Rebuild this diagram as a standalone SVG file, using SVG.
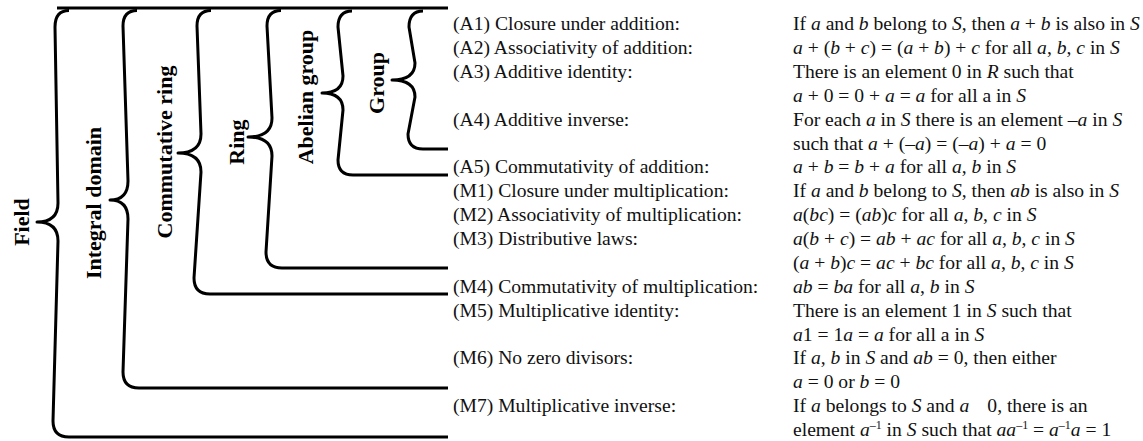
<svg xmlns="http://www.w3.org/2000/svg" width="1143" height="441" viewBox="0 0 1143 441">
<style>
.br{fill:none;stroke:#000;stroke-width:3;stroke-linecap:butt;stroke-linejoin:round}
.lab{font-family:"Liberation Serif","Times New Roman",serif;font-weight:bold;font-size:22px;fill:#000;text-anchor:middle}
.t{font-family:"Liberation Serif","Times New Roman",serif;font-size:19.6px;fill:#111}
.i{font-style:italic}
.sup{font-size:12px}
</style>
<rect width="1143" height="441" fill="#fff"/>
<g id="connectors">
<path class="br" d="M57,8 L448,8"/>
<path id="br-field" class="br" d="M69,10.5 Q55,10.5 55,27 L58,203 Q58,222 37,222 Q58,222 58,241 L53,421 Q53,437 69,437 L448,437"/>
<path id="br-integral" class="br" d="M137,10.5 Q123,10.5 123,26 L128,181 Q128,200 110,200 Q128,200 128,219 L123,372 Q123,388 139,388 L448,388"/>
<path id="br-commring" class="br" d="M211,10.5 Q197,10.5 197,26 L201,134 Q201,153 178,153 Q201,153 201,172 L194,278 Q194,294 210,294 L448,294"/>
<path id="br-ring" class="br" d="M281,10.5 Q267,10.5 267,26 L272,118 Q272,137 248,137 Q272,137 272,156 L266,252 Q266,268 282,268 L448,268"/>
<path id="br-abelian" class="br" d="M352,11 Q338,11 338,27 L343,76 Q343,93 322,93 Q343,93 343,110 L338,160 Q338,175 353,175 L448,175"/>
<path id="br-group" class="br" d="M423,11 Q409,11 409,27 L415,63 Q415,80 392,80 Q415,80 415,97 L408,134 Q408,149 423,149 L448,149"/>
</g>
<g id="field"><text class="lab" transform="translate(29,222) rotate(-90)">Field</text></g>
<g id="integral-domain"><text class="lab" transform="translate(101,203) rotate(-90)">Integral domain</text></g>
<g id="commutative-ring"><text class="lab" transform="translate(172,152) rotate(-90)">Commutative ring</text></g>
<g id="ring"><text class="lab" transform="translate(244,142) rotate(-90)">Ring</text></g>
<g id="abelian-group"><text class="lab" transform="translate(313,97) rotate(-90)">Abelian group</text></g>
<g id="group"><text class="lab" transform="translate(384,83) rotate(-90)">Group</text></g>
<g id="axioms">
<text class="t" x="453" y="30">(A1) Closure under addition:</text>
<text class="t" x="453" y="53.9">(A2) Associativity of addition:</text>
<text class="t" x="453" y="77.8">(A3) Additive identity:</text>
<text class="t" x="453" y="125.6">(A4) Additive inverse:</text>
<text class="t" x="453" y="173.3">(A5) Commutativity of addition:</text>
<text class="t" x="453" y="197.2">(M1) Closure under multiplication:</text>
<text class="t" x="453" y="221.1">(M2) Associativity of multiplication:</text>
<text class="t" x="453" y="245">(M3) Distributive laws:</text>
<text class="t" x="453" y="292.8">(M4) Commutativity of multiplication:</text>
<text class="t" x="453" y="316.7">(M5) Multiplicative identity:</text>
<text class="t" x="453" y="364.4">(M6) No zero divisors:</text>
<text class="t" x="453" y="412.2">(M7) Multiplicative inverse:</text>
</g>
<g id="definitions">
<text class="t" x="793" y="30">If <tspan class="i">a</tspan> and <tspan class="i">b</tspan> belong to <tspan class="i">S</tspan>, then <tspan class="i">a</tspan> + <tspan class="i">b</tspan> is also in <tspan class="i">S</tspan></text>
<text class="t" x="793" y="53.9"><tspan class="i">a</tspan> + (<tspan class="i">b</tspan> + <tspan class="i">c</tspan>) = (<tspan class="i">a</tspan> + <tspan class="i">b</tspan>) + <tspan class="i">c</tspan> for all <tspan class="i">a</tspan>, <tspan class="i">b</tspan>, <tspan class="i">c</tspan> in <tspan class="i">S</tspan></text>
<text class="t" x="793" y="77.8">There is an element 0 in <tspan class="i">R</tspan> such that</text>
<text class="t" x="793" y="101.7"><tspan class="i">a</tspan> + 0 = 0 + <tspan class="i">a</tspan> = <tspan class="i">a</tspan> for all a in <tspan class="i">S</tspan></text>
<text class="t" x="793" y="125.6">For each <tspan class="i">a</tspan> in <tspan class="i">S</tspan> there is an element –<tspan class="i">a</tspan> in <tspan class="i">S</tspan></text>
<text class="t" x="793" y="149.5">such that <tspan class="i">a</tspan> + (–<tspan class="i">a</tspan>) = (–<tspan class="i">a</tspan>) + <tspan class="i">a</tspan> = 0</text>
<text class="t" x="793" y="173.3"><tspan class="i">a</tspan> + <tspan class="i">b</tspan> = <tspan class="i">b</tspan> + <tspan class="i">a</tspan> for all <tspan class="i">a</tspan>, <tspan class="i">b</tspan> in <tspan class="i">S</tspan></text>
<text class="t" x="793" y="197.2">If <tspan class="i">a</tspan> and <tspan class="i">b</tspan> belong to <tspan class="i">S</tspan>, then <tspan class="i">ab</tspan> is also in <tspan class="i">S</tspan></text>
<text class="t" x="793" y="221.1"><tspan class="i">a</tspan>(<tspan class="i">bc</tspan>) = (<tspan class="i">ab</tspan>)<tspan class="i">c</tspan> for all <tspan class="i">a</tspan>, <tspan class="i">b</tspan>, <tspan class="i">c</tspan> in <tspan class="i">S</tspan></text>
<text class="t" x="793" y="245"><tspan class="i">a</tspan>(<tspan class="i">b</tspan> + <tspan class="i">c</tspan>) = <tspan class="i">ab</tspan> + <tspan class="i">ac</tspan> for all <tspan class="i">a</tspan>, <tspan class="i">b</tspan>, <tspan class="i">c</tspan> in <tspan class="i">S</tspan></text>
<text class="t" x="793" y="268.9">(<tspan class="i">a</tspan> + <tspan class="i">b</tspan>)<tspan class="i">c</tspan> = <tspan class="i">ac</tspan> + <tspan class="i">bc</tspan> for all <tspan class="i">a</tspan>, <tspan class="i">b</tspan>, <tspan class="i">c</tspan> in <tspan class="i">S</tspan></text>
<text class="t" x="793" y="292.8"><tspan class="i">ab</tspan> = <tspan class="i">ba</tspan> for all <tspan class="i">a</tspan>, <tspan class="i">b</tspan> in <tspan class="i">S</tspan></text>
<text class="t" x="793" y="316.7">There is an element 1 in <tspan class="i">S</tspan> such that</text>
<text class="t" x="793" y="340.6"><tspan class="i">a</tspan>1 = 1<tspan class="i">a</tspan> = <tspan class="i">a</tspan> for all a in <tspan class="i">S</tspan></text>
<text class="t" x="793" y="364.4">If <tspan class="i">a</tspan>, <tspan class="i">b</tspan> in <tspan class="i">S</tspan> and <tspan class="i">ab</tspan> = 0, then either</text>
<text class="t" x="793" y="388.3"><tspan class="i">a</tspan> = 0 or <tspan class="i">b</tspan> = 0</text>
<text class="t" x="793" y="412.2">If <tspan class="i">a</tspan> belongs to <tspan class="i">S</tspan> and <tspan class="i">a</tspan><tspan dx="18">0, there is an</tspan></text>
<text class="t" x="793" y="436.1">element <tspan class="i">a</tspan><tspan class="sup" dy="-7">–1</tspan><tspan dy="7"> in </tspan><tspan class="i">S</tspan> such that <tspan class="i">aa</tspan><tspan class="sup" dy="-7">–1</tspan><tspan dy="7"> = </tspan><tspan class="i">a</tspan><tspan class="sup" dy="-7">–1</tspan><tspan class="i" dy="7">a</tspan> = 1</text>
</g>
</svg>
